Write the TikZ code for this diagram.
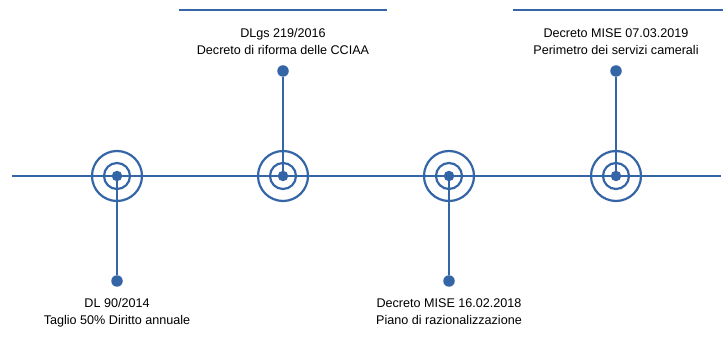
\documentclass[tikz,border=0pt]{standalone}
\usepackage{fontspec}
\setmainfont{Liberation Sans}
\usetikzlibrary{positioning}
\definecolor{timeblue}{RGB}{52,101,166}

\begin{document}
\begin{tikzpicture}[x=1pt,y=1pt,
    tline/.style={draw=timeblue,line width=2.2pt},
    ring/.style={circle,draw=timeblue,line width=2.2pt,inner sep=0pt},
    pin/.style={circle,fill=timeblue,inner sep=0pt,minimum size=11.5pt},
    lbl/.style={align=center,font=\fontsize{12.6}{17.2}\selectfont,inner sep=0pt,text depth=0pt}]
    \useasboundingbox (0,0) rectangle (723,340);
    % axis and top bars
    \coordinate (start) at (12,164);
    \coordinate (end) at (721,164);
    \draw[tline] (start) -- (end);
    \coordinate (barAl) at (179,330);
    \coordinate (barAr) at (387,330);
    \coordinate (barBl) at (513,330);
    \coordinate (barBr) at (723,330);
    \draw[tline] (barAl) -- (barAr);
    \draw[tline] (barBl) -- (barBr);
    % milestones
    \foreach \n/\x in {1/117,2/283,3/449,4/616} {
        \node[ring,minimum size=50pt] (outer\n) at (\x,164) {};
        \node[ring,minimum size=26pt] (inner\n) at (\x,164) {};
        \node[pin,minimum size=10.5pt] (c\n) at (\x,164) {};
    }
    % pins
    \node[pin] (e1) at (117,59) {};
    \node[pin] (e2) at (283,269) {};
    \node[pin] (e3) at (449,59) {};
    \node[pin] (e4) at (616,269) {};
    \draw[tline] (c1) -- (e1);
    \draw[tline] (c2) -- (e2);
    \draw[tline] (c3) -- (e3);
    \draw[tline] (c4) -- (e4);
    % labels
    \node[lbl,below=11.5pt of e1] (t1) {DL 90/2014\\Taglio 50\% Diritto annuale};
    \node[lbl,above=10.3pt of e2] (t2) {DLgs 219/2016\\Decreto di riforma delle CCIAA};
    \node[lbl,below=11.5pt of e3] (t3) {Decreto MISE 16.02.2018\\Piano di razionalizzazione};
    \node[lbl,above=10.3pt of e4] (t4) {Decreto MISE 07.03.2019\\Perimetro dei servizi camerali};
\end{tikzpicture}
\end{document}
